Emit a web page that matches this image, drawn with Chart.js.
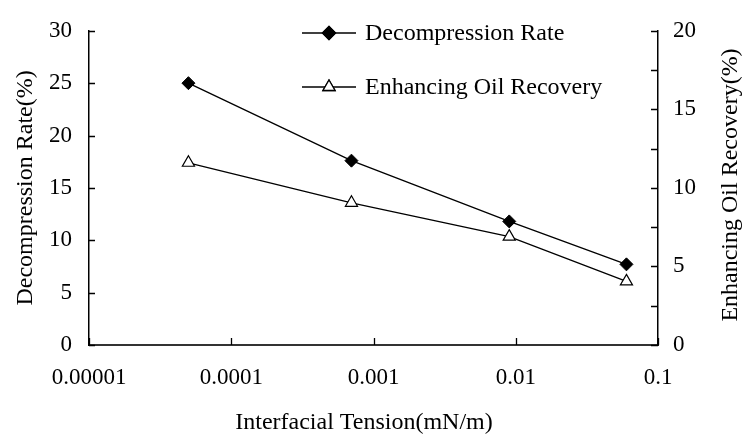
<!DOCTYPE html>
<html>
<head>
<meta charset="utf-8">
<script src="https://cdn.jsdelivr.net/npm/chart.js@4/dist/chart.umd.min.js"></script>
<style>
  html, body { margin: 0; padding: 0; background: #fff; }
  #wrap { width: 745px; height: 439px; position: relative; }
</style>
</head>
<body>
<div id="wrap"><canvas id="chart"></canvas></div>
<script>
/* ===== Interfacial tension vs decompression / oil recovery ===== */

const tension       = [0.00005, 0.0007, 0.009, 0.06];
const decompression = [25.0, 17.6, 11.8, 7.7];
const oilRecovery   = [11.6, 9.05, 6.9, 4.05];

const xTicks      = [0.00001, 0.0001, 0.001, 0.01, 0.1];
const xTickLabels = ['0.00001', '0.0001', '0.001', '0.01', '0.1'];
const leftTicks   = [0, 5, 10, 15, 20, 25, 30];
const rightTicks  = [0, 2.5, 5, 7.5, 10, 12.5, 15, 17.5, 20];
const rightLabels = [0, 5, 10, 15, 20];

const FONT = "'Liberation Serif', 'Times New Roman', serif";

const toPoints = (xs, ys) => xs.map((x, i) => ({ x: x, y: ys[i] }));

// tick marks drawn into the plot, as in the original
const innerTicks = {
  id: 'innerTicks',
  afterDatasetsDraw(chart) {
    const { ctx } = chart;
    const { x, y, y2 } = chart.scales;
    ctx.save();
    ctx.strokeStyle = '#000';
    ctx.lineWidth = 1.3;
    ctx.beginPath();
    x.ticks.forEach(t => {
      const px = Math.round(x.getPixelForValue(t.value)) + 0.5;
      ctx.moveTo(px, x.top);
      ctx.lineTo(px, x.top - 7);
    });
    y.ticks.forEach(t => {
      const py = Math.round(y.getPixelForValue(t.value)) + 0.5;
      ctx.moveTo(y.right, py);
      ctx.lineTo(y.right + 6, py);
    });
    y2.ticks.forEach(t => {
      const py = Math.round(y2.getPixelForValue(t.value)) + 0.5;
      ctx.moveTo(y2.left, py);
      ctx.lineTo(y2.left - 7, py);
    });
    ctx.stroke();
    ctx.restore();
  }
};

// legend inside the plot, x title, right title reading bottom to top
const extras = {
  id: 'extras',
  afterDraw(chart) {
    const { ctx } = chart;
    ctx.save();
    const rows = [33, 87];
    chart.data.datasets.forEach((ds, i) => {
      const yy = rows[i];
      ctx.strokeStyle = ds.borderColor;
      ctx.lineWidth = ds.borderWidth;
      ctx.beginPath();
      ctx.moveTo(302, yy);
      ctx.lineTo(356, yy);
      ctx.stroke();
      Chart.helpers.drawPoint(ctx, {
        pointStyle: ds.pointStyle,
        radius: ds.pointRadius,
        borderWidth: ds.pointBorderWidth
      }, 329, yy);
      ctx.fillStyle = ds.pointBackgroundColor;
      ctx.strokeStyle = ds.pointBorderColor;
      ctx.fill();
      ctx.stroke();
      ctx.fillStyle = '#000';
      ctx.font = '24px ' + FONT;
      ctx.textAlign = 'left';
      ctx.textBaseline = 'middle';
      ctx.fillText(ds.label, 365, yy + 1);
    });

    ctx.fillStyle = '#000';
    ctx.font = '24px ' + FONT;
    ctx.textAlign = 'center';
    ctx.textBaseline = 'middle';
    ctx.fillText('Interfacial Tension(mN/m)', 364, 423);

    ctx.translate(731, 185);
    ctx.rotate(-Math.PI / 2);
    ctx.fillText('Enhancing Oil Recovery(%)', 0, 0);
    ctx.restore();
  }
};

new Chart(document.getElementById('chart'), {
  type: 'scatter',
  data: {
    datasets: [
      {
        label: 'Decompression Rate',
        data: toPoints(tension, decompression),
        yAxisID: 'y',
        showLine: true,
        borderColor: '#000',
        borderWidth: 1.3,
        pointStyle: 'rectRot',
        pointRadius: 6.5,
        pointBorderWidth: 1,
        pointBackgroundColor: '#000',
        pointBorderColor: '#000'
      },
      {
        label: 'Enhancing Oil Recovery',
        data: toPoints(tension, oilRecovery),
        yAxisID: 'y2',
        showLine: true,
        borderColor: '#000',
        borderWidth: 1.3,
        pointStyle: 'triangle',
        pointRadius: 7,
        pointBorderWidth: 1.2,
        pointBackgroundColor: '#fff',
        pointBorderColor: '#000'
      }
    ]
  },
  options: {
    responsive: true,
    maintainAspectRatio: false,
    animation: false,
    layout: { padding: { top: 18, left: 0, right: 0, bottom: 0 } },
    plugins: {
      legend: { display: false },
      tooltip: { enabled: false }
    },
    scales: {
      x: {
        type: 'logarithmic',
        min: 0.00001,
        max: 0.1,
        afterBuildTicks: s => { s.ticks = xTicks.map(v => ({ value: v })); },
        afterFit: s => { s.height = 94; },
        grid: { display: false, drawTicks: false },
        border: { color: '#333', width: 2 },
        ticks: {
          padding: 19,
          maxRotation: 0,
          color: '#000',
          font: { family: FONT, size: 23 },
          callback: (v) => xTickLabels[xTicks.indexOf(v)] ?? ''
        }
      },
      y: {
        position: 'left',
        min: 0,
        max: 30,
        afterBuildTicks: s => { s.ticks = leftTicks.map(v => ({ value: v })); },
        afterFit: s => { s.width = 89; },
        grid: { display: false, drawTicks: false },
        border: { color: '#000', width: 1.5 },
        ticks: {
          padding: 17,
          color: '#000',
          font: { family: FONT, size: 23 }
        },
        title: {
          display: true,
          text: 'Decompression Rate(%)',
          color: '#000',
          font: { family: FONT, size: 24 },
          padding: { top: 11, bottom: 0 }
        }
      },
      y2: {
        position: 'right',
        min: 0,
        max: 20,
        afterBuildTicks: s => { s.ticks = rightTicks.map(v => ({ value: v })); },
        afterFit: s => { s.width = 87; },
        grid: { display: false, drawTicks: false },
        border: { color: '#000', width: 1.5 },
        ticks: {
          padding: 15,
          color: '#000',
          font: { family: FONT, size: 23 },
          callback: (v) => rightLabels.includes(v) ? String(v) : ''
        }
      }
    }
  },
  plugins: [innerTicks, extras]
});
</script>
</body>
</html>
